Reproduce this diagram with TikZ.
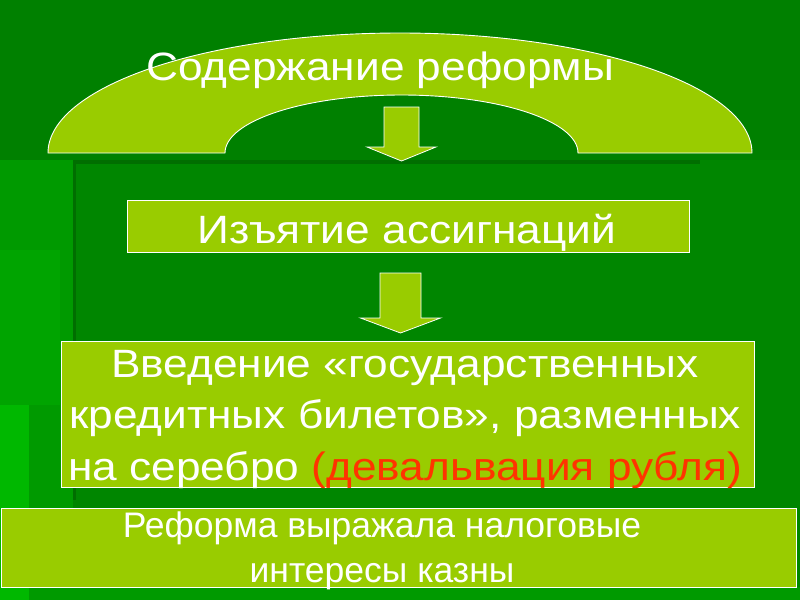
\documentclass[tikz,border=0pt]{standalone}
\usepackage{fontspec}
\setmainfont{Liberation Sans}
\newfontfamily\widefont[FakeStretch=1.12]{Liberation Sans}
\definecolor{bgmain}{HTML}{008600}
\definecolor{bgtop}{HTML}{008000}
\definecolor{bgside}{HTML}{009A00}
\definecolor{bglight}{HTML}{00A400}
\definecolor{bgbright}{HTML}{00B800}
\definecolor{bgseam}{HTML}{006E00}
\definecolor{leaf}{HTML}{99CC00}
\definecolor{rust}{HTML}{FF3300}

\begin{document}
\begin{tikzpicture}[x=1pt,y=-1pt,
  box/.style={draw=white,line width=0.9pt,fill=leaf,text=white,inner sep=0pt},
  blockarr/.style={draw=white,line width=0.8pt,fill=leaf,line join=miter},
  big/.style={font=\widefont\fontsize{39.5}{51.5}\selectfont}]
% slide background
\fill[bgmain] (0,0) rectangle (800,600);
\fill[bgtop] (0,0) rectangle (800,160);
\fill[bgside] (0,160) rectangle (73,600);
\fill[bglight] (0,250) rectangle (60,405);
\fill[bgbright] (0,405) rectangle (29,600);
\fill[bgside] (29,587) rectangle (800,600);
\fill[bgseam] (73,160) rectangle (76,500);
\fill[bgseam] (73,160) rectangle (700,164);
% arch
\draw[box] (48,153) arc[start angle=180,end angle=360,x radius=352,y radius=120]
  -- (578,153) arc[start angle=0,end angle=-180,x radius=176.5,y radius=58] -- cycle;
\node[big,text=white,anchor=base] (head) at (380,80) {Содержание реформы};
% boxes
\node[box,minimum width=562pt,minimum height=52pt] (withdraw) at (408,226) {};
\node[big,text=white,anchor=base] (withdrawtext) at (407,243.5) {Изъятие ассигнаций};
\node[box,minimum width=693pt,minimum height=146pt] (notes) at (407.5,414) {};
\node[big,text=white,align=center,anchor=base] (notestext) at (405,480)
  {Введение «государственных\\кредитных билетов», разменных\\на серебро \textcolor{rust}{(девальвация рубля)}};
\node[box,minimum width=795pt,minimum height=79pt] (tax) at (398.5,547.5) {};
\node[text=white,align=center,anchor=base,font=\fontsize{35.5}{45}\selectfont] (taxnote) at (382,582)
  {Реформа выражала налоговые\\интересы казны};
% block arrows
\foreach \cx/\hw/\tw/\ya/\yb/\yc in {401.5/17.5/34.5/107/147/161,400.5/20.5/40/273/318/333}
  \draw[blockarr] (\cx-\hw,\ya) -- (\cx+\hw,\ya) -- (\cx+\hw,\yb) -- (\cx+\tw,\yb)
    -- (\cx,\yc) -- (\cx-\tw,\yb) -- (\cx-\hw,\yb) -- cycle;
\end{tikzpicture}
\end{document}
